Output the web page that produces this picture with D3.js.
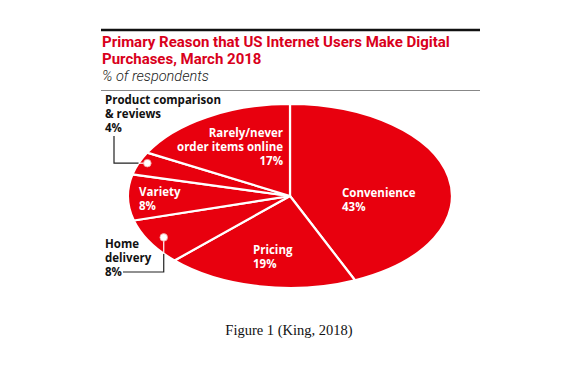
<!DOCTYPE html>
<html>
<head>
<meta charset="utf-8">
<script src="https://cdn.jsdelivr.net/npm/d3@7"></script>
<style>
  body { margin: 0; background: #fff; }
  svg { display: block; }
  .ttl { font-family: Roboto, "Open Sans", sans-serif; font-weight: 700; fill: #d9001b; }
  .lbl { font-family: "Open Sans", sans-serif; font-weight: 700; font-size: 11.5px; }
</style>
</head>
<body>
<svg width="568" height="373"></svg>
<script>
// slices, clockwise from 12 o'clock
let reasons = ["Convenience", "Pricing", "Home delivery", "Variety", "Product comparison & reviews", "Rarely/never order items online"];
let shares = [43, 19, 8, 8, 4, 17];

let svg = d3.select("svg");
let red = "#e8000e";

// header rules and text
svg.append("line").attr("x1", 101).attr("x2", 480).attr("y1", 30).attr("y2", 30)
  .attr("stroke", "#111").attr("stroke-width", 2.5);
let title = svg.append("text").attr("class", "ttl").attr("font-size", 15);
title.append("tspan").attr("x", 102).attr("y", 47.3).text("Primary Reason that US Internet Users Make Digital");
title.append("tspan").attr("x", 102).attr("y", 64).text("Purchases, March 2018");
svg.append("text").attr("x", 102).attr("y", 81).attr("font-family", "Roboto, sans-serif")
  .attr("font-style", "italic").attr("font-weight", 300).attr("font-size", 14.5)
  .attr("fill", "#222").text("% of respondents");
svg.append("line").attr("x1", 101).attr("x2", 480).attr("y1", 90.5).attr("y2", 90.5)
  .attr("stroke", "#888").attr("stroke-width", 1);

// pie squashed into an ellipse
let cx = 290, cy = 196, rx = 162, ry = 92;
let pie = d3.pie().sort(null).value(d => d)(shares);
let arc = d3.arc().innerRadius(0).outerRadius(1);

let plot = svg.append("g")
  .attr("transform", "translate(" + cx + "," + cy + ") scale(" + rx + "," + ry + ")");

plot.selectAll("path").data(pie).enter().append("path")
  .attr("d", arc)
  .attr("fill", red)
  .attr("stroke", "#fff")
  .attr("stroke-width", 2.2)
  .attr("stroke-linejoin", "round")
  .attr("vector-effect", "non-scaling-stroke");

// helper: point in ellipse at a slice angle and relative radius
let at = function(a, r) {
  return [cx + rx * r * Math.sin(a), cy - ry * r * Math.cos(a)];
};

// labels inside slices
let inside = [
  { lines: ["Convenience", "43%"], x: 342, y: 197, anchor: "start" },
  { lines: ["Pricing", "19%"], x: 253, y: 254, anchor: "start" },
  { lines: ["Variety", "8%"], x: 139, y: 196, anchor: "start" },
  { lines: ["Rarely/never", "order items online", "17%"], x: 283, y: 137, anchor: "end" }
];
inside.forEach(function(d) {
  let t = svg.append("text").attr("class", "lbl").attr("fill", "#fff")
    .attr("text-anchor", d.anchor);
  d.lines.forEach(function(s, k) {
    t.append("tspan").attr("x", d.x).attr("y", d.y + k * 14).text(s);
  });
});

// callouts for the small slices
let mid = d => (d.startAngle + d.endAngle) / 2;
let dotPC = at(mid(pie[4]) + 0.02, 0.95);
let dotHD = at(mid(pie[2]), 0.9);

// where a horizontal / vertical line meets the ellipse edge
let edgeX = y => cx - rx * Math.sqrt(1 - Math.pow((y - cy) / ry, 2));
let edgeY = x => cy + ry * Math.sqrt(1 - Math.pow((x - cx) / rx, 2));

let outside = [
  { lines: ["Product comparison", "& reviews", "4%"], x: 105, y: 104 },
  { lines: ["Home", "delivery", "8%"], x: 105, y: 248 }
];
outside.forEach(function(d) {
  let t = svg.append("text").attr("class", "lbl").attr("fill", "#111");
  d.lines.forEach(function(s, k) {
    t.append("tspan").attr("x", d.x).attr("y", d.y + k * 14).text(s);
  });
});

let pcEdge = edgeX(dotPC[1]);
svg.append("path")
  .attr("d", "M114,136 V" + dotPC[1] + " H" + pcEdge)
  .attr("fill", "none").attr("stroke", "#222").attr("stroke-width", 1.2);
svg.append("path")
  .attr("d", "M" + pcEdge + "," + dotPC[1] + " H" + dotPC[0])
  .attr("fill", "none").attr("stroke", "#fff").attr("stroke-width", 1.2);

let hdEdge = edgeY(dotHD[0]);
svg.append("path")
  .attr("d", "M" + dotHD[0] + "," + hdEdge + " V272 H123")
  .attr("fill", "none").attr("stroke", "#222").attr("stroke-width", 1.2);
svg.append("path")
  .attr("d", "M" + dotHD[0] + "," + dotHD[1] + " V" + hdEdge)
  .attr("fill", "none").attr("stroke", "#fff").attr("stroke-width", 1.2);

[dotPC, dotHD].forEach(function(p) {
  svg.append("circle").attr("cx", p[0]).attr("cy", p[1]).attr("r", 3.8)
    .attr("fill", "#fff").attr("stroke", "#f4a0a0").attr("stroke-width", 0.8);
});

// caption
svg.append("text").attr("x", 289).attr("y", 335).attr("text-anchor", "middle")
  .attr("font-family", "'Liberation Serif', 'Times New Roman', serif")
  .attr("font-size", 14.5).attr("fill", "#111").text("Figure 1 (King, 2018)");
</script>
</body>
</html>
